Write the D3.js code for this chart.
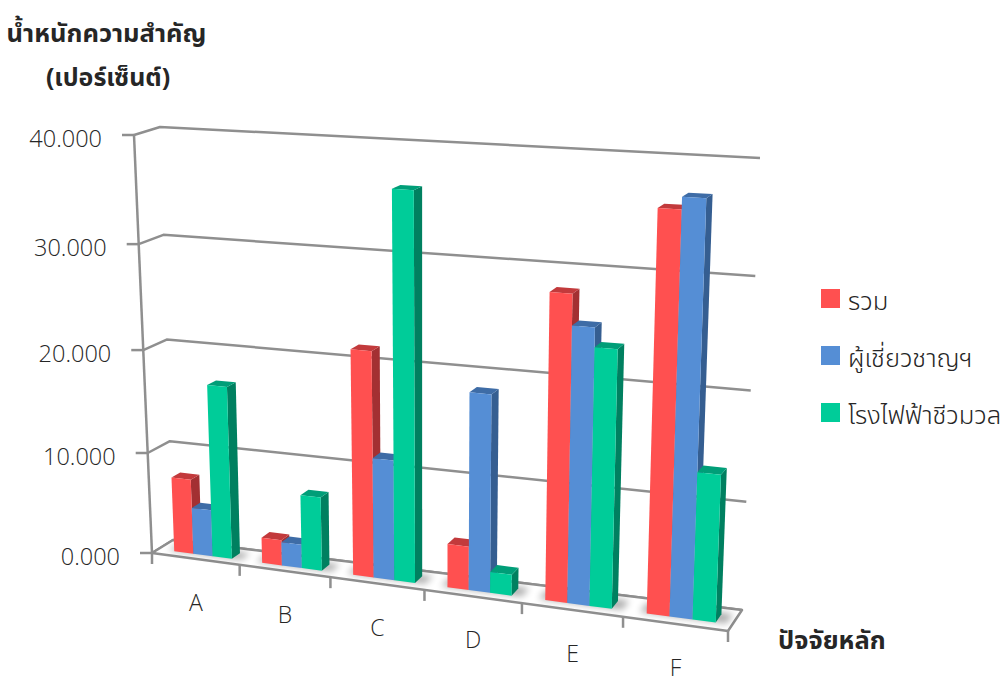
<!DOCTYPE html>
<html lang="th">
<head>
<meta charset="utf-8">
<script src="https://cdn.jsdelivr.net/npm/d3@7/dist/d3.min.js"></script>
<style>
  html, body { margin: 0; padding: 0; background: #fff; }
  svg { display: block; }
  text { font-family: "Open Sans", "Noto Sans", "Noto Sans Thai", "Loma", "Garuda", sans-serif; fill: #262626; }
</style>
</head>
<body>
<svg id="chart" width="1005" height="677"></svg>
<script>
// Chart data
const categories = ["A", "B", "C", "D", "E", "F"];
const seriesNames = ["รวม", "ผู้เชี่ยวชาญฯ", "โรงไฟฟ้าชีวมวล"];
const seriesTotal = [7.4, 2.5, 21.5, 4.15, 28.15, 36.0];
const seriesExperts = [4.6, 2.3, 11.5, 18.55, 25.35, 37.05];
const seriesPlant = [16.85, 7.15, 36.25, 2.0, 23.6, 13.4];
const valueTicks = [0, 10, 20, 30, 40];
const yTitleLines = ["น้ำหนักความสำคัญ", "(เปอร์เซ็นต์)"];
const xTitle = "ปัจจัยหลัก";

const series = [seriesTotal, seriesExperts, seriesPlant];
const faceColors = [
  { front: "#FF5050", top: "#C23A3C", side: "#A33032" },
  { front: "#558ED5", top: "#3E6CA6", side: "#355E91" },
  { front: "#00CC99", top: "#009E78", side: "#008060" }
];

const svg = d3.select("#chart");
const gridColor = "#8f8f8f";

// Box corners on screen: f/b = front/back, l/r = left/right, 0/1 = floor/top
const box = {
  fl0: [152, 553], fr0: [728, 631], bl0: [173, 540], br0: [742, 610],
  fl1: [134, 135], fr1: [745, 168], bl1: [160, 127], br1: [760, 158]
};

// Foreshortening of a unit interval, as a perspective view produces it
const foreshorten = k => t => t / (t + k * (1 - t));
const warpX = foreshorten(1.114);
const warpY = foreshorten(1.06);

const xScale = d3.scaleLinear().domain([0, categories.length]).range([0, 1]);
const yScale = d3.scaleLinear().domain([0, 40]).range([0, 1]);

const mix = (a, b, t) => [a[0] + (b[0] - a[0]) * t, a[1] + (b[1] - a[1]) * t];

// Maps (category position, value, depth 0..1) to a screen point
function project(x, v, z) {
  const s = warpX(xScale(x)), h = warpY(yScale(v));
  const f0 = mix(box.fl0, box.fr0, s), f1 = mix(box.fl1, box.fr1, s);
  const b0 = mix(box.bl0, box.br0, s), b1 = mix(box.bl1, box.br1, s);
  return mix(mix(f0, b0, z), mix(f1, b1, z), h);
}

const line = d3.line();
const poly = pts => line(pts) + "Z";

const defs = svg.append("defs");
defs.append("filter").attr("id", "soft")
  .attr("x", "-30%").attr("y", "-100%").attr("width", "160%").attr("height", "300%")
  .append("feGaussianBlur").attr("stdDeviation", 3.5);

// Wall grid: each line runs along the left wall, then across the back wall
const grid = svg.append("g").attr("fill", "none").attr("stroke", gridColor)
  .attr("stroke-width", 2.5).attr("stroke-linejoin", "round");
valueTicks.forEach(v => {
  grid.append("path").attr("d", line([
    project(0, v, 0), project(0, v, 1), project(categories.length, v, 1)
  ]));
});
grid.append("path").attr("d", line([project(0, 40, 0), project(0, 0, 0)]));

// Floor outline
grid.append("path").attr("fill", "#fff").attr("d", poly([
  project(0, 0, 0), project(0, 0, 1),
  project(categories.length, 0, 1), project(categories.length, 0, 0)
]));

// Value ticks and labels
valueTicks.forEach(v => {
  const p = project(0, v, 0);
  grid.append("path").attr("d", line([[p[0] - 12, p[1]], p]));
  svg.append("text")
    .attr("x", p[0] - 32).attr("y", p[1] + 12)
    .attr("text-anchor", "end").attr("font-size", 23.5).attr("font-weight", 300)
    .text(d3.format(".3f")(v));
});

// Category ticks and labels along the front edge
d3.range(categories.length + 1).forEach(i => {
  const p = project(i, 0, 0);
  grid.append("path").attr("d", line([p, [p[0], p[1] + 11]]));
});
categories.forEach((c, i) => {
  const a = project(i, 0, 0), b = project(i + 1, 0, 0);
  svg.append("text")
    .attr("x", (a[0] + b[0]) / 2).attr("y", (a[1] + b[1]) / 2 + 52)
    .attr("text-anchor", "middle").attr("font-size", 23).attr("font-weight", 300)
    .text(c);
});

// Bars
const gapLeft = 0.185, gapRight = 0.155;
const barWidth = (1 - gapLeft - gapRight) / series.length;
const zFront = 0.3, zBack = 0.7;
categories.forEach((c, i) => {
  const g = svg.append("g");
  const left = i + gapLeft, right = i + 1 - gapRight;
  g.append("path")
    .attr("d", poly([
      project(left - 0.07, 0, zFront + 0.02), project(left - 0.07, 0, zBack + 0.08),
      project(right + 0.1, 0, zBack + 0.08), project(right + 0.1, 0, zFront + 0.02)
    ]))
    .attr("fill", "#000").attr("opacity", 0.32).attr("filter", "url(#soft)");

  series.forEach((vals, k) => {
    const x0 = left + k * barWidth, x1 = x0 + barWidth, v = vals[i];
    const col = faceColors[k];
    g.append("path").attr("fill", col.side).attr("d", poly([
      project(x1, 0, zFront), project(x1, 0, zBack), project(x1, v, zBack), project(x1, v, zFront)
    ]));
    g.append("path").attr("fill", col.top).attr("d", poly([
      project(x0, v, zFront), project(x0, v, zBack), project(x1, v, zBack), project(x1, v, zFront)
    ]));
    g.append("path").attr("fill", col.front).attr("d", poly([
      project(x0, 0, zFront), project(x0, v, zFront), project(x1, v, zFront), project(x1, 0, zFront)
    ]));
  });
});

// Axis titles
svg.append("text").attr("x", 106.5).attr("y", 42).attr("text-anchor", "middle")
  .attr("font-size", 25.5).attr("font-weight", 700).text(yTitleLines[0]);
svg.append("text").attr("x", 108).attr("y", 86).attr("text-anchor", "middle")
  .attr("font-size", 25).attr("font-weight", 700).text(yTitleLines[1]);
svg.append("text").attr("x", 778).attr("y", 649)
  .attr("font-size", 25.5).attr("font-weight", 700).text(xTitle);

// Legend
const legendY = d3.scalePoint().domain(seriesNames).range([289, 403]);
seriesNames.forEach((name, k) => {
  svg.append("rect").attr("x", 821).attr("y", legendY(name))
    .attr("width", 19).attr("height", 19).attr("fill", faceColors[k].front);
  svg.append("text").attr("x", 848).attr("y", legendY(name) + 21)
    .attr("font-size", 25.5).attr("font-weight", 300).text(name);
});
</script>
</body>
</html>
